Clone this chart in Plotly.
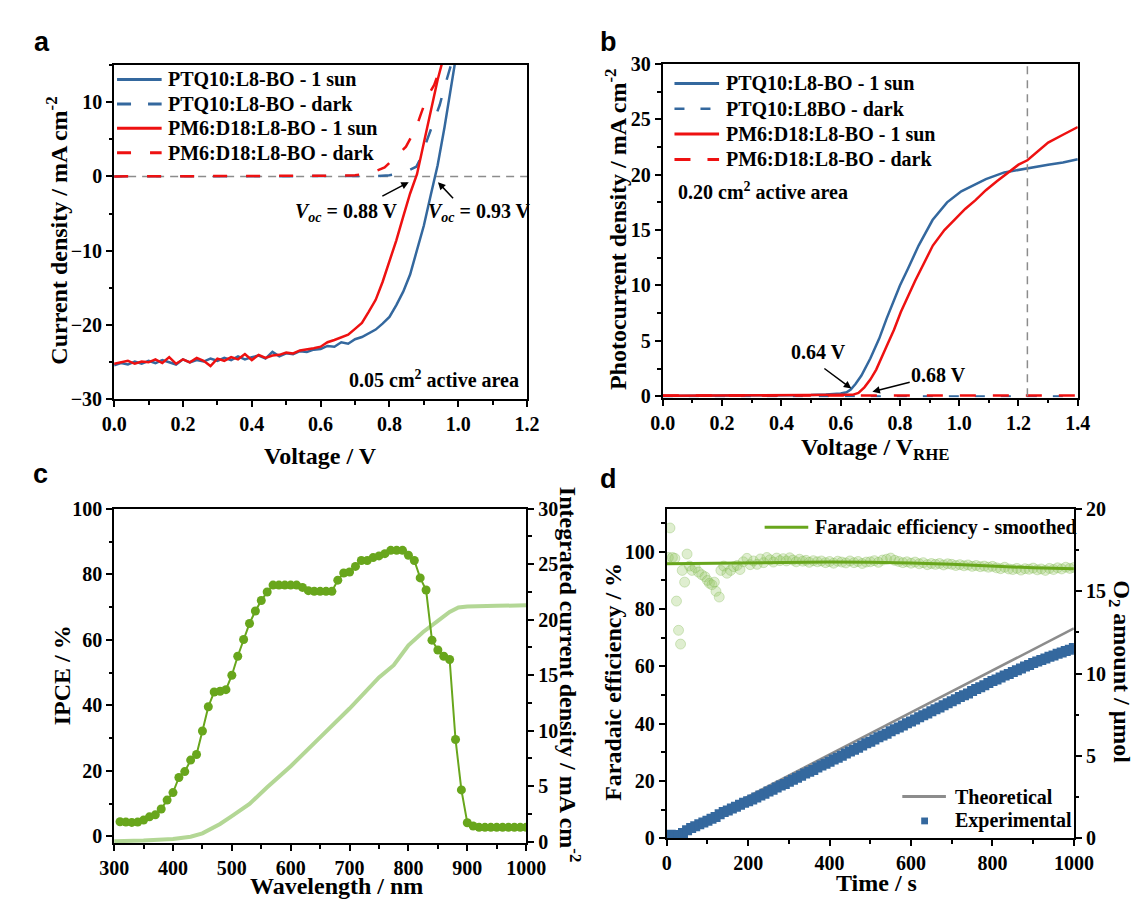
import plotly.graph_objects as go

W, H = 1146, 901

# ---------------- Panel a : J-V of solar cells ----------------
va_sun_blue = [0.00, 0.02, 0.04, 0.06, 0.08, 0.10, 0.12, 0.14, 0.16, 0.18, 0.20, 0.22, 0.24, 0.26, 0.28, 0.30,
               0.32, 0.34, 0.36, 0.38, 0.40, 0.42, 0.44, 0.46, 0.48, 0.50, 0.52, 0.54, 0.56, 0.58, 0.60, 0.62,
               0.64, 0.66, 0.68, 0.70, 0.72, 0.74, 0.76, 0.78, 0.80, 0.82, 0.84, 0.86, 0.88, 0.90, 0.92, 0.94,
               0.96, 0.98, 1.00]
ja_sun_blue = [-25.4, -25.1, -25.3, -24.9, -25.2, -24.8, -25.1, -24.7, -25.0, -25.3, -24.6, -25.0, -24.7, -24.9,
               -24.5, -24.8, -24.4, -24.7, -24.2, -24.6, -24.3, -24.1, -24.5, -23.6, -24.2, -23.8, -23.9, -23.5,
               -23.6, -23.3, -23.2, -22.8, -22.9, -22.3, -22.5, -21.9, -21.6, -21.1, -20.6, -19.8, -18.9, -17.3,
               -15.5, -13.2, -10.0, -6.6, -2.5, 1.5, 6.6, 12.5, 18.0]
va_sun_red = [0.00, 0.02, 0.04, 0.06, 0.08, 0.10, 0.12, 0.14, 0.16, 0.18, 0.20, 0.22, 0.24, 0.26, 0.28, 0.30,
              0.32, 0.34, 0.36, 0.38, 0.40, 0.42, 0.44, 0.46, 0.48, 0.50, 0.52, 0.54, 0.56, 0.58, 0.60, 0.62,
              0.64, 0.66, 0.68, 0.70, 0.72, 0.74, 0.76, 0.78, 0.80, 0.82, 0.84, 0.86, 0.88, 0.90, 0.92, 0.94,
              0.96]
ja_sun_red = [-25.2, -25.0, -24.8, -25.2, -24.9, -25.0, -24.6, -25.1, -24.3, -25.2, -24.6, -25.0, -24.4, -24.8,
              -25.5, -24.5, -24.8, -24.3, -24.6, -23.9, -24.7, -24.0, -24.4, -24.1, -24.0, -23.7, -23.8, -23.4,
              -23.3, -23.1, -22.9, -22.3, -22.0, -21.6, -21.3, -20.5, -19.7, -18.2, -16.6, -14.2, -11.5, -8.6,
              -5.4, -2.3, 0.3, 4.6, 9.0, 13.0, 16.5]
va_dark_blue = [0.00, 0.10, 0.20, 0.30, 0.40, 0.50, 0.60, 0.70, 0.76, 0.80, 0.82, 0.84, 0.86, 0.878, 0.89,
                0.909, 0.925, 0.946, 0.96, 0.971, 0.985]
ja_dark_blue = [0.0, 0.0, 0.0, 0.0, 0.0, 0.0, 0.0, 0.02, 0.05, 0.15, 0.3, 0.5, 0.9, 1.3, 2.4, 4.9, 7.0, 9.6,
                12.0, 13.8, 16.0]
va_dark_red = [0.00, 0.10, 0.20, 0.30, 0.40, 0.50, 0.60, 0.66, 0.70, 0.72, 0.745, 0.76, 0.786, 0.80, 0.82,
               0.848, 0.86, 0.878, 0.89, 0.904, 0.92, 0.93, 0.94, 0.95]
ja_dark_red = [0.0, 0.0, 0.0, 0.0, 0.0, 0.02, 0.05, 0.1, 0.15, 0.25, 0.5, 0.7, 1.2, 1.8, 2.7, 4.0, 5.0, 6.6,
               8.2, 10.0, 11.5, 12.3, 13.6, 15.5]
labels_a = ["PTQ10:L8-BO - 1 sun", "PTQ10:L8-BO - dark", "PM6:D18:L8-BO - 1 sun", "PM6:D18:L8-BO - dark"]
j_zero = 0.0

# ---------------- Panel b : photoelectrodes ----------------
vb_sun_blue = [0.00, 0.10, 0.20, 0.30, 0.40, 0.50, 0.55, 0.58, 0.60, 0.62, 0.634, 0.65, 0.67, 0.70, 0.73, 0.755,
               0.779, 0.80, 0.827, 0.863, 0.91, 0.959, 1.007, 1.05, 1.09, 1.152, 1.23, 1.30, 1.35, 1.40]
jb_sun_blue = [0.02, 0.03, 0.04, 0.05, 0.07, 0.10, 0.15, 0.20, 0.25, 0.35, 0.6, 1.1, 1.87, 3.4, 5.2, 7.0,
               8.6, 10.0, 11.5, 13.6, 15.9, 17.5, 18.5, 19.1, 19.6, 20.2, 20.6, 20.9, 21.1, 21.4]
vb_sun_red = [0.00, 0.30, 0.50, 0.60, 0.64, 0.66, 0.68, 0.70, 0.72, 0.755, 0.78, 0.803, 0.851, 0.911, 0.95,
              0.983, 1.02, 1.055, 1.09, 1.127, 1.16, 1.20, 1.23, 1.272, 1.30, 1.35, 1.40]
jb_sun_red = [0.05, 0.06, 0.08, 0.10, 0.12, 0.3, 0.8, 1.5, 2.4, 4.5, 6.0, 7.6, 10.4, 13.6, 15.0, 15.9, 16.9,
              17.7, 18.6, 19.4, 20.1, 20.9, 21.3, 22.3, 22.9, 23.6, 24.3]
vb_dark = [0.00, 0.20, 0.40, 0.60, 0.80, 1.00, 1.20, 1.40]
jb_dark_blue = [0.0, 0.0, 0.0, 0.0, 0.0, 0.0, 0.0, 0.0]
jb_dark_red = [0.06, 0.06, 0.06, 0.06, 0.07, 0.07, 0.07, 0.07]
labels_b = ["PTQ10:L8-BO - 1 sun", "PTQ10:L8BO - dark", "PM6:D18:L8-BO - 1 sun", "PM6:D18:L8-BO - dark"]
v_oer = 1.23

# ---------------- Panel c : IPCE ----------------
wl_ipce = [310, 320, 330, 340, 350, 360, 370, 380, 390, 400, 410, 420, 430, 440, 450, 460, 470, 480, 490, 500,
           510, 520, 530, 540, 550, 560, 570, 580, 590, 600, 610, 620, 630, 640, 650, 660, 670, 680, 690, 700,
           710, 720, 730, 740, 750, 760, 770, 780, 790, 800, 810, 820, 830, 840, 850, 860, 870, 880, 890, 900,
           910, 920, 930, 940, 950, 960, 970, 980, 990, 1000]
ipce = [4.5, 4.4, 4.3, 4.4, 5.0, 6.0, 6.6, 8.4, 11.1, 13.4, 18.0, 19.8, 23.3, 25.0, 32.2, 39.6, 44.1, 44.3, 44.8,
        49.2, 55.0, 60.1, 65.0, 68.8, 72.0, 74.6, 76.7, 76.7, 76.7, 76.7, 76.7, 76.0, 75.0, 74.8, 74.8, 74.8,
        74.8, 78.2, 80.4, 80.7, 82.4, 84.2, 84.2, 85.1, 85.6, 86.3, 87.3, 87.3, 87.3, 85.8, 84.2, 78.9, 75.2,
        59.9, 56.9, 55.0, 54.0, 29.6, 14.2, 4.2, 3.2, 2.8, 2.8, 2.8, 2.8, 2.8, 2.8, 2.8, 2.8, 2.8]
wl_int = [300, 350, 400, 430, 450, 480, 500, 530, 560, 600, 650, 700, 750, 775, 800, 825, 850, 870, 885, 900,
          950, 1000]
j_int = [0.05, 0.1, 0.25, 0.45, 0.75, 1.6, 2.3, 3.4, 4.9, 6.8, 9.4, 12.0, 14.8, 15.9, 17.7, 18.9, 19.9, 20.7,
         21.1, 21.2, 21.25, 21.3]

# ---------------- Panel d : Faradaic efficiency / O2 ----------------
t_fe = [4, 8, 14, 20, 24, 29, 34, 38, 44, 50, 56, 62, 70, 78, 86, 94, 100, 105, 111, 117, 121, 129, 133, 140,
        148, 157, 165, 173, 180, 188, 197, 205, 213, 222, 230, 238, 246, 254, 262, 270, 278, 286, 294, 302,
        310, 318, 326, 334, 342, 350, 360, 370, 380, 390, 400, 410, 420, 430, 440, 450, 460, 470, 480, 490,
        500, 510, 520, 530, 540, 550, 560, 570, 580, 590, 600, 610, 620, 630, 640, 650, 660, 670, 680, 690,
        700, 710, 720, 730, 740, 750, 760, 770, 780, 790, 800, 810, 820, 830, 840, 850, 860, 870, 880, 890,
        900, 910, 920, 930, 940, 950, 960, 970, 980, 990, 1000]
fe = [98.0, 108.3, 98.0, 97.7, 82.8, 72.6, 67.8, 93.5, 89.4, 99.2, 95.0, 93.5, 94.5, 92.9, 92.0, 91.3, 90.0,
      89.0, 88.5, 89.4, 86.2, 84.2, 93.5, 95.0, 92.5, 93.5, 94.8, 95.2, 93.8, 96.5, 97.7, 95.5, 96.8, 95.6,
      97.5, 96.2, 98.0, 97.2, 96.4, 97.8, 96.9, 97.6, 96.8, 97.9, 97.1, 96.5, 97.4, 96.7, 97.0, 96.3, 96.9,
      96.5, 96.8, 96.2, 96.6, 96.0, 96.7, 96.4, 96.1, 96.8, 96.2, 96.6, 95.9, 96.4, 96.5, 96.9, 96.3, 97.1,
      97.4, 97.8, 97.0, 96.6, 96.2, 96.5, 96.0, 96.4, 95.8, 96.2, 95.5, 95.9, 95.6, 95.9, 95.4, 95.8, 95.6,
      95.2, 95.5, 95.1, 95.4, 94.9, 95.2, 94.8, 95.0, 94.6, 94.9, 94.4, 94.1, 94.6, 94.0, 93.8, 94.2, 93.6,
      94.1, 93.9, 94.3, 93.7, 94.0, 93.5, 94.2, 93.8, 94.4, 94.0, 94.6, 94.2, 94.5]
t_smooth = [0, 100, 200, 300, 400, 500, 600, 700, 800, 900, 1000]
fe_smooth = [95.8, 96.0, 96.2, 96.4, 96.4, 96.3, 96.1, 95.6, 95.0, 94.4, 94.1]
t_exp = [0, 10, 20, 30, 40, 50, 60, 70, 80, 90, 100, 110, 120, 130, 140, 150, 160, 170, 180, 190, 200,
         210, 220, 230, 240, 250, 260, 270, 280, 290, 300, 310, 320, 330, 340, 350, 360, 370, 380, 390, 400,
         410, 420, 430, 440, 450, 460, 470, 480, 490, 500, 510, 520, 530, 540, 550, 560, 570, 580, 590, 600,
         610, 620, 630, 640, 650, 660, 670, 680, 690, 700, 710, 720, 730, 740, 750, 760, 770, 780, 790, 800,
         810, 820, 830, 840, 850, 860, 870, 880, 890, 900, 910, 920, 930, 940, 950, 960, 970, 980, 990, 1000]
o2_exp = [0.20, 0.22, 0.18, 0.21, 0.33, 0.50, 0.63, 0.74, 0.86, 0.97, 1.08, 1.19, 1.30, 1.47, 1.60, 1.70,
          1.82, 1.93, 2.05, 2.16, 2.26, 2.36, 2.49, 2.60, 2.72, 2.85, 2.96, 3.09, 3.21, 3.31, 3.44, 3.57,
          3.68, 3.80, 3.94, 4.05, 4.16, 4.30, 4.42, 4.53, 4.65, 4.79, 4.90, 5.02, 5.15, 5.28, 5.38, 5.51,
          5.64, 5.77, 5.87, 6.00, 6.14, 6.24, 6.36, 6.50, 6.62, 6.73, 6.85, 6.99, 7.10, 7.21, 7.35, 7.47,
          7.58, 7.72, 7.84, 7.95, 8.08, 8.21, 8.32, 8.44, 8.58, 8.69, 8.80, 8.94, 9.06, 9.17, 9.30, 9.43,
          9.55, 9.65, 9.77, 9.88, 9.98, 10.10, 10.20, 10.31, 10.43, 10.53, 10.64, 10.73, 10.83, 10.92, 11.02,
          11.10, 11.20, 11.28, 11.37, 11.45, 11.55]
t_theo = [0, 1000]
o2_theo = [0.0, 12.74]
labels_d = ["Faradaic efficiency - smoothed", "Theoretical", "Experimental"]

# ---------------- styles ----------------
BLUE = "#34689E"
RED = "#EE1111"
GREEN = "#68A61C"
LGREEN = "#B3D795"
GRAY = "#8C8C8C"
SERIF = "Liberation Serif"
TF = dict(family=SERIF, size=20, color="black", weight="bold")
DASH_A = "14px,19px"
DASH_B_BLUE = "10px,16px"
DASH_B_RED = "16px,17px"


def px(xp):
    return xp / W


def py(yp):
    return 1 - yp / H


def axis(domain, rng, dtick, minor, **kw):
    d = dict(domain=domain, range=rng, dtick=dtick, showline=True, linewidth=2, linecolor="black",
             ticks="outside", ticklen=6, tickwidth=1.5, tickcolor="black", tickfont=TF,
             showgrid=False, zeroline=False,
             minor=dict(dtick=minor, ticks="outside", ticklen=3.5, tickwidth=1.5, tickcolor="black",
                        showgrid=False))
    d.update(kw)
    return d


fig = go.Figure()

# Panel a traces
fig.add_trace(go.Scatter(x=va_sun_blue, y=ja_sun_blue, mode="lines", name=labels_a[0],
                         line=dict(color=BLUE, width=2.5), xaxis="x", yaxis="y"))
fig.add_trace(go.Scatter(x=va_dark_blue, y=ja_dark_blue, mode="lines", name=labels_a[1],
                         line=dict(color=BLUE, width=2.5, dash=DASH_A), xaxis="x", yaxis="y"))
fig.add_trace(go.Scatter(x=va_sun_red, y=ja_sun_red, mode="lines", name=labels_a[2],
                         line=dict(color=RED, width=2.5), xaxis="x", yaxis="y"))
fig.add_trace(go.Scatter(x=va_dark_red, y=ja_dark_red, mode="lines", name=labels_a[3],
                         line=dict(color=RED, width=2.5, dash=DASH_A), xaxis="x", yaxis="y"))

# Panel b traces
fig.add_trace(go.Scatter(x=vb_sun_blue, y=jb_sun_blue, mode="lines", name=labels_b[0],
                         line=dict(color=BLUE, width=2.5), xaxis="x2", yaxis="y2"))
fig.add_trace(go.Scatter(x=vb_dark, y=jb_dark_blue, mode="lines", name=labels_b[1],
                         line=dict(color=BLUE, width=2, dash=DASH_B_BLUE), xaxis="x2", yaxis="y2"))
fig.add_trace(go.Scatter(x=vb_sun_red, y=jb_sun_red, mode="lines", name=labels_b[2],
                         line=dict(color=RED, width=2.5), xaxis="x2", yaxis="y2"))
fig.add_trace(go.Scatter(x=vb_dark, y=jb_dark_red, mode="lines", name=labels_b[3],
                         line=dict(color=RED, width=2.5, dash=DASH_B_RED), xaxis="x2", yaxis="y2"))

# Panel c traces (integrated current on base axis y3, IPCE on overlay y5 so it is drawn on top)
fig.add_trace(go.Scatter(x=wl_int, y=j_int, mode="lines", line=dict(color=LGREEN, width=4),
                         xaxis="x3", yaxis="y3", name="Integrated current"))
fig.add_trace(go.Scatter(x=wl_ipce, y=ipce, mode="lines+markers", line=dict(color=GREEN, width=2),
                         marker=dict(color=GREEN, size=9), xaxis="x3", yaxis="y5", name="IPCE"))

# Panel d traces
fig.add_trace(go.Scatter(x=t_fe, y=fe, mode="markers", name="Faradaic efficiency",
                         marker=dict(color="rgba(150,200,100,0.30)", size=10,
                                     line=dict(color="rgba(120,180,70,0.30)", width=1)),
                         xaxis="x4", yaxis="y4"))
fig.add_trace(go.Scatter(x=t_smooth, y=fe_smooth, mode="lines", name=labels_d[0],
                         line=dict(color=GREEN, width=3), xaxis="x4", yaxis="y4"))
fig.add_trace(go.Scatter(x=t_theo, y=o2_theo, mode="lines", name=labels_d[1],
                         line=dict(color=GRAY, width=2.5), xaxis="x4", yaxis="y6"))
fig.add_trace(go.Scatter(x=t_exp, y=o2_exp, mode="markers", name=labels_d[2],
                         marker=dict(color=BLUE, size=10, symbol="square"), xaxis="x4", yaxis="y6"))

# Axes
dom_a_x = [px(94), px(520)]
dom_a_y = [py(390), py(47)]
dom_b_x = [px(660), px(1088)]
dom_b_y = [py(388), py(46)]
dom_c_x = [px(94), px(519)]
dom_c_y = [py(845), py(502)]
dom_d_x = [px(664), px(1084)]
dom_d_y = [py(840), py(502)]

fig.update_layout(
    width=W, height=H, margin=dict(l=0, r=0, t=0, b=0), paper_bgcolor="white", plot_bgcolor="white",
    font=dict(family=SERIF, color="black"), showlegend=False,
    xaxis=axis(dom_a_x, [0, 1.2], 0.2, 0.1, anchor="y", mirror=True, tickformat=".1f"),
    yaxis=axis(dom_a_y, [-30, 15], 10, 5, anchor="x", mirror=True, tick0=0),
    xaxis2=axis(dom_b_x, [0, 1.4], 0.2, 0.1, anchor="y2", mirror=True, tickformat=".1f"),
    yaxis2=axis(dom_b_y, [-0.12, 30], 5, 2.5, anchor="x2", mirror=True, tick0=0),
    xaxis3=axis(dom_c_x, [300, 1000], 100, 50, anchor="y3", mirror=True),
    yaxis3=axis(dom_c_y, [-0.15, 30], 5, 2.5, anchor="x3", side="right", tick0=0),
    yaxis5=axis(dom_c_y, [-2.1, 100], 20, 10, anchor="x3", overlaying="y3", side="left", tick0=0),
    xaxis4=axis(dom_d_x, [0, 1000], 200, 100, anchor="y4", mirror=True),
    yaxis4=axis(dom_d_y, [0, 115], 20, 10, anchor="x4", side="left", tick0=0),
    yaxis6=axis(dom_d_y, [0, 20], 5, 2.5, anchor="x4", overlaying="y4", side="right", tick0=0),
)

# Reference lines
fig.add_shape(type="line", xref="x", yref="y", x0=0, x1=1.2, y0=j_zero, y1=j_zero, layer="below",
              line=dict(color=GRAY, width=1.5, dash="8px,6px"))
fig.add_shape(type="line", xref="x2", yref="y2", x0=v_oer, x1=v_oer, y0=0, y1=30,
              line=dict(color=GRAY, width=1.5, dash="8px,6px"))

ann = []


def text(x, y, t, xref="paper", yref="paper", size=20, xanchor="center", yanchor="middle", angle=0,
         family=SERIF):
    ann.append(dict(x=x, y=y, xref=xref, yref=yref, text=t, showarrow=False, xanchor=xanchor,
                    yanchor=yanchor, textangle=angle,
                    font=dict(family=family, size=size, color="black", weight="bold")))


def arrow(x, y, ax, ay, xref, yref):
    ann.append(dict(x=x, y=y, ax=ax, ay=ay, xref=xref, yref=yref, axref=xref, ayref=yref, text="",
                    showarrow=True, arrowhead=2, arrowsize=1, arrowwidth=1.5, arrowcolor="black"))


def legend_line(x0, x1, y, color, width, dash, label, tx):
    fig.add_shape(type="line", xref="paper", yref="paper", x0=px(x0), x1=px(x1), y0=py(y), y1=py(y),
                  line=dict(color=color, width=width, dash=dash))
    text(px(tx), py(y), label, xanchor="left")


# Legends (drawn by hand to match the reference sample length and spacing)
legend_line(97, 143, 62, BLUE, 3, "solid", labels_a[0], 148)
legend_line(97, 143, 87, BLUE, 3, "14px,17px", labels_a[1], 148)
legend_line(97, 143, 112, RED, 3, "solid", labels_a[2], 148)
legend_line(97, 143, 137, RED, 3, "14px,19px", labels_a[3], 148)

legend_line(672, 718, 66, BLUE, 3, "solid", labels_b[0], 723)
legend_line(672, 718, 92, BLUE, 2.5, "10px,16px", labels_b[1], 723)
legend_line(672, 718, 118, RED, 3, "solid", labels_b[2], 723)
legend_line(672, 718, 144, RED, 3, "16px,17px", labels_b[3], 723)

legend_line(765, 810, 521, GREEN, 3, "solid", labels_d[0], 815)
legend_line(907, 952, 797, GRAY, 3, "solid", labels_d[1], 959)
fig.add_shape(type="rect", xref="paper", yref="paper", x0=px(926.5), x1=px(933.5), y0=py(825.5),
              y1=py(818.5), fillcolor=BLUE, line=dict(width=0))
text(px(959), py(822), labels_d[2], xanchor="left")

# Panel labels
text(px(20), py(24), "a", size=27, family="Liberation Sans")
text(px(604), py(24), "b", size=27, family="Liberation Sans")
text(px(18), py(466), "c", size=27, family="Liberation Sans")
text(px(604), py(472), "d", size=27, family="Liberation Sans")

# Axis titles
text(px(35), py(217), "Current density / mA cm<sup>-2</sup>", size=24, angle=-90)
text(px(307), py(448), "Voltage / V", size=24)
text(px(611), py(215), "Photocurrent density / mA cm<sup>-2</sup>", size=24, angle=-90)
text(px(879), py(441), "Voltage / V<sub>RHE</sub>", size=24)
text(px(40), py(673), "IPCE / %", size=24, angle=-90)
text(px(565), py(672), "Integrated current density / mA cm<sup>-2</sup>", size=24, angle=90)
text(px(323), py(889), "Wavelength / nm", size=24)
text(px(609), py(679), "Faradaic efficiency / %", size=24, angle=-90)
text(px(1132), py(669), "O<sub>2</sub> amount / μmol", size=24, angle=90)
text(px(880), py(886), "Time / s", size=24)

# Panel a annotations
text(0.675, -4.9, "<i>V</i><sub><i>oc</i></sub> = 0.88 V", xref="x", yref="y")
text(1.061, -4.9, "<i>V</i><sub><i>oc</i></sub> = 0.93 V", xref="x", yref="y")
text(1.182, -27.3, "0.05 cm<sup>2</sup> active area", xref="x", yref="y", xanchor="right")
arrow(0.856, -0.78, 0.775, -2.75, "x", "y")
arrow(0.941, -0.78, 0.989, -3.14, "x", "y")

# Panel b annotations
text(0.525, 3.95, "0.64 V", xref="x2", yref="y2")
text(0.929, 1.87, "0.68 V", xref="x2", yref="y2")
text(0.044, 18.5, "0.20 cm<sup>2</sup> active area", xref="x2", yref="y2", xanchor="left")
arrow(0.636, 0.7, 0.540, 2.6, "x2", "y2")
arrow(0.707, 0.41, 0.838, 1.29, "x2", "y2")

fig.update_layout(annotations=ann)

fig.write_html("out.html")
